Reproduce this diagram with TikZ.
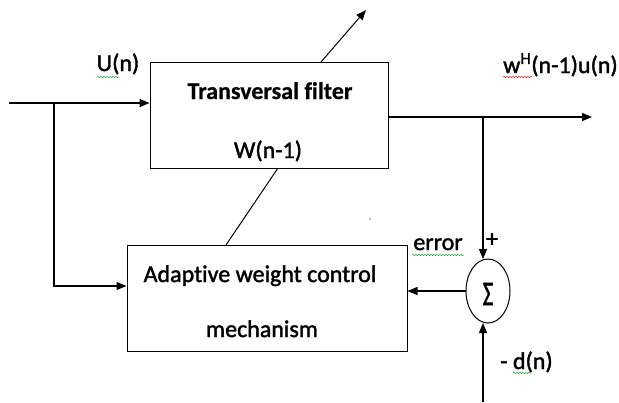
\documentclass[tikz,border=0pt]{standalone}
\usepackage{fontspec}
\usepackage{graphicx}
\setmainfont{Carlito}[Ligatures=NoCommon,FakeBold=1.6,BoldFeatures={FakeBold=0.6}]
\usetikzlibrary{arrows.meta,shapes.geometric,decorations.pathmorphing}
\begin{document}
\begin{tikzpicture}[x=1pt,y=-1pt,
  box/.style={draw,line width=1pt,rectangle,inner sep=0pt},
  wire/.style={line width=1.2pt},
  arr/.style={wire,-{Triangle[length=10pt,width=8pt]}},
  lbl/.style={inner sep=0pt,font=\fontsize{24}{28}\selectfont},
  squig/.style={decorate,decoration={snake,amplitude=0.7pt,segment length=3pt},line width=0.5pt},
]
\useasboundingbox (0,0) rectangle (619,402);
\definecolor{sqgreen}{RGB}{40,170,60}
\definecolor{sqred}{RGB}{220,40,40}
% blocks
\node[box,minimum width=238pt,minimum height=106pt] (filt) at (269,115) {};
\node[box,minimum width=280pt,minimum height=106pt] (adapt) at (267,298) {};
\node[draw,line width=1pt,ellipse,minimum width=44pt,minimum height=64pt,inner sep=0pt] (sum) at (488,291) {};
\node[inner sep=0pt] (sig) at (488,294) {\fontsize{24}{28}\selectfont\scalebox{0.95}[1.45]{Σ}};
% block texts
\node[lbl,anchor=base,font=\fontsize{24}{28}\selectfont\bfseries] (t1) at (270,99) {Transversal filter};
\node[lbl,anchor=base] (t2) at (268,158) {W(n-1)};
\node[lbl,anchor=base] (t3) at (260,282) {Adaptive weight control};
\node[lbl,anchor=base] (t4) at (262,337) {mechanism};
% labels
\node[lbl,anchor=base] (un) at (118,71) {U(n)};
\node[lbl,anchor=base west] (wh) at (503,73) {w\textsuperscript{H}(n-1)u(n)};
\node[lbl,anchor=base] (err) at (438,250) {error};
\node[lbl,anchor=center] (plus) at (492,240) {+};
\node[lbl,anchor=base west] (dn) at (500,369) {- d(n)};
% coordinates
\coordinate (in) at (9,103);
\coordinate (br1) at (54,103);
\coordinate (br1d) at (54,286);
\coordinate (out) at (592,117);
\coordinate (br2) at (483,117);
\coordinate (dsrc) at (483,402);
\coordinate (dtop) at (483,323);
\coordinate (stop) at (483,259);
\coordinate (diagA) at (226,245);
\coordinate (diagB) at (278,168);
\coordinate (diagC) at (321,62);
\coordinate (diagD) at (366,10);
% connectors
\draw[arr] (in) -- (filt.west |- in);
\draw[arr] (br1) -- (br1d) -- (adapt.west |- br1d);
\draw[arr] (filt.east |- out) -- (out);
\draw[arr] (br2) -- (stop);
\draw[arr] (dsrc) -- (dtop);
\draw[arr] (sum.west) -- (sum.west -| adapt.east);
\draw[line width=1pt] (diagA) -- (diagB);
\draw[arr,line width=1pt] (diagC) -- (diagD);
% spellcheck squiggles and stray dot
\draw[squig,sqgreen] (97,77) -- (119,77);
\draw[squig,sqred] (503,77) -- (532,77);
\draw[squig,sqgreen] (412,255) -- (464,255);
\draw[squig,sqgreen] (513,373) -- (531,373);
\fill[blue!60] (370,219) circle (0.8pt);
\end{tikzpicture}
\end{document}
